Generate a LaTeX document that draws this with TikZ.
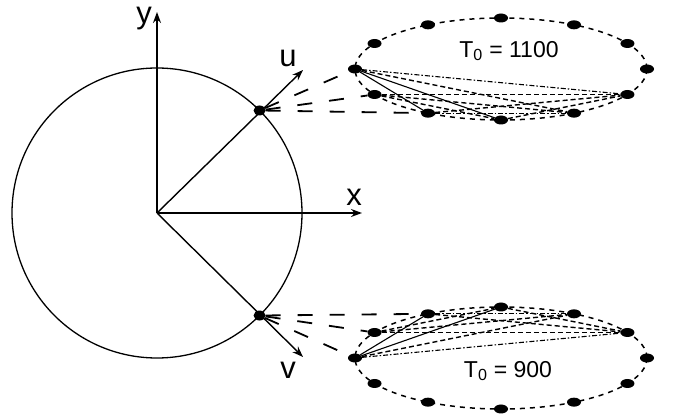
\documentclass[tikz,border=0pt]{standalone}
\usepackage{fontspec}
\setmainfont{Liberation Sans}
\usetikzlibrary{arrows.meta,calc,shapes.geometric}
\begin{document}
\begin{tikzpicture}[x=1pt,y=-1pt,
  dot/.style={ellipse, fill=black, draw=none, inner sep=0pt, minimum width=14pt, minimum height=9pt},
  cdot/.style={ellipse, fill=black, draw=none, inner sep=0pt, minimum width=12pt, minimum height=10pt},
  axis/.style={line width=1.4pt, -{Stealth[length=11pt,width=8pt]}},
  ring/.style={line width=1.5pt, dash pattern=on 5pt off 5pt},
  longdash/.style={line width=1.8pt, dash pattern=on 15pt off 17pt},
  sol/.style={line width=1.1pt},
  dsh/.style={line width=1.4pt, dash pattern=on 5pt off 3pt},
  dd/.style={line width=1.1pt, dash pattern=on 5pt off 2pt on 1.5pt off 2pt},
  lab/.style={font=\fontsize{31}{33}\selectfont, inner sep=0pt},
  tlab/.style={font=\fontsize{23}{25}\selectfont, inner sep=0pt}]
\useasboundingbox (0,0) rectangle (673,419);
% circle and axes
\coordinate (O) at (157,213);
\draw[line width=1.3pt] (O) circle [radius=145];
\coordinate (yt) at (157,12);
\coordinate (xt) at (362,213);
\coordinate (ut) at (303,70);
\coordinate (vt) at (303,357);
\draw[axis] (O) -- (yt);
\draw[axis] (O) -- (xt);
\draw[axis] (O) -- (ut);
\draw[axis] (O) -- (vt);
\node[lab] (ylab) at (144,19) {y};
\node[lab] (xlab) at (354,197) {x};
\node[lab] (ulab) at (288,58) {u};
\node[lab] (vlab) at (288,370) {v};
\node[cdot] (P) at ($(O)+(45:145pt)$) {};
\node[cdot] (Q) at ($(O)+(-45:145pt)$) {};
% upper ellipse
\coordinate (UC) at (501,69);
\draw[ring] (UC) ellipse [x radius=146, y radius=51];
\foreach \i in {0,...,11}
  \node[dot] (U\i) at ({501+146*cos(30*\i)},{69-51*sin(30*\i)}) {};
\node[tlab] (tu) at (509,51) {T\textsubscript{0} = 1100};
% lower ellipse
\coordinate (LC) at (501,358);
\draw[ring] (LC) ellipse [x radius=146, y radius=51];
\foreach \i in {0,...,11}
  \node[dot] (L\i) at ({501+146*cos(30*\i)},{358-51*sin(30*\i)}) {};
\node[tlab] (tl) at (508,371) {T\textsubscript{0} = 900};
% connectors from circle points
\draw[longdash] (P) -- (U6);
\draw[longdash] (P) -- (U7);
\draw[longdash] (P) -- (U8);
\draw[longdash] (Q) -- (L6);
\draw[longdash] (Q) -- (L5);
\draw[longdash] (Q) -- (L4);
% inner connections upper
\draw[sol] (U6) -- (U8);
\draw[sol] (U6) -- (U9);
\draw[dsh] (U6) -- (U10);
\draw[dd] (U6) -- (U11);
\draw[dsh] (U7) -- (U9);
\draw[dsh] (U7) -- (U10);
\draw[dsh] (U7) -- (U11);
\draw[dd] (U8) -- (U10);
\draw[dsh] (U8) -- (U11);
\draw[dsh] (U9) -- (U11);
% inner connections lower
\draw[sol] (L6) -- (L4);
\draw[sol] (L6) -- (L3);
\draw[dsh] (L6) -- (L2);
\draw[dd] (L6) -- (L1);
\draw[dsh] (L5) -- (L3);
\draw[dsh] (L5) -- (L2);
\draw[dsh] (L5) -- (L1);
\draw[dd] (L4) -- (L2);
\draw[dsh] (L4) -- (L1);
\draw[dsh] (L3) -- (L1);
\end{tikzpicture}
\end{document}
